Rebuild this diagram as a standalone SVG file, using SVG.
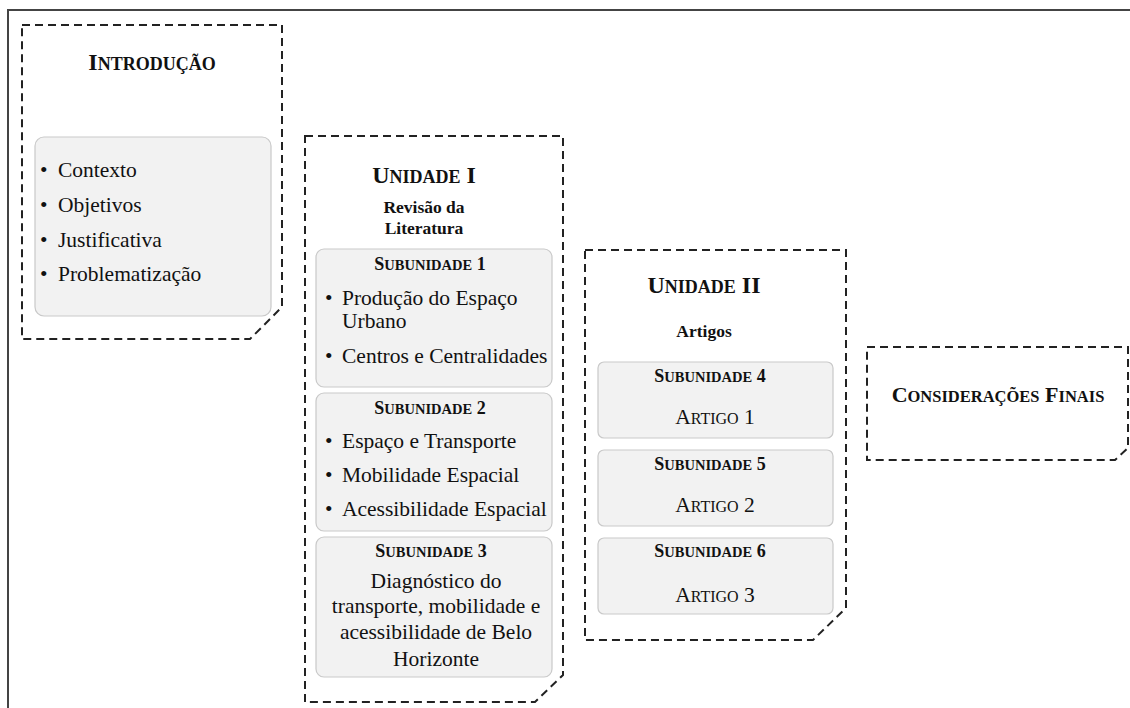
<svg xmlns="http://www.w3.org/2000/svg" width="1130" height="708" viewBox="0 0 1130 708">
<style>
.frame{fill:none;stroke:#444;stroke-width:2}
.dash{fill:none;stroke:#222;stroke-width:2;stroke-dasharray:8 5}
.inner{fill:#f2f2f2;stroke:#c9c9c9;stroke-width:1.2}
text{font-family:"Liberation Serif","Times New Roman",serif;fill:#111}
.h1{font-size:24px;font-weight:bold;text-anchor:middle}
.h1 .s{font-size:18px}
.h2{font-size:17.5px;font-weight:bold;text-anchor:middle}
.h3{font-size:18px;font-weight:bold;text-anchor:middle}
.h3 .s{font-size:14.5px}
.b{font-size:21.5px}
.c{font-size:21.5px;text-anchor:middle}
.art{font-size:21.5px;text-anchor:middle}
.art .s{font-size:16px}
</style>
<rect width="1130" height="708" fill="#fff"/>
<path class="frame" d="M8 708 V10 H1130"/>

<g id="introducao">
<path class="dash" d="M22 25 H282 V307 L250 339 H22 Z"/>
<text class="h1" x="152" y="70">I<tspan class="s">NTRODUÇÃO</tspan></text>
<rect class="inner" x="35" y="137" width="236" height="179" rx="9"/>
<text class="b" x="40" y="177">•<tspan x="58">Contexto</tspan></text>
<text class="b" x="40" y="212">•<tspan x="58">Objetivos</tspan></text>
<text class="b" x="40" y="247">•<tspan x="58">Justificativa</tspan></text>
<text class="b" x="40" y="281">•<tspan x="58">Problematização</tspan></text>
</g>

<g id="unidade1">
<path class="dash" d="M305 136 H563 V675 L535 702 H305 Z"/>
<text class="h1" x="424" y="183">U<tspan class="s">NIDADE</tspan> I</text>
<text class="h2" x="424" y="213">Revisão da</text>
<text class="h2" x="424" y="234">Literatura</text>
</g>

<g id="subunidade1">
<rect class="inner" x="316" y="249" width="236" height="138" rx="8"/>
<text class="h3" x="430" y="270">S<tspan class="s">UBUNIDADE</tspan> 1</text>
<text class="b" x="325" y="305">•<tspan x="342">Produção do Espaço</tspan></text>
<text class="b" x="342" y="328">Urbano</text>
<text class="b" x="325" y="363">•<tspan x="342">Centros e Centralidades</tspan></text>
</g>

<g id="subunidade2">
<rect class="inner" x="316" y="393" width="236" height="138" rx="8"/>
<text class="h3" x="430" y="414">S<tspan class="s">UBUNIDADE</tspan> 2</text>
<text class="b" x="325" y="448">•<tspan x="342">Espaço e Transporte</tspan></text>
<text class="b" x="325" y="482">•<tspan x="342">Mobilidade Espacial</tspan></text>
<text class="b" x="325" y="516">•<tspan x="342">Acessibilidade Espacial</tspan></text>
</g>

<g id="subunidade3">
<rect class="inner" x="316" y="537" width="236" height="140" rx="8"/>
<text class="h3" x="431" y="557">S<tspan class="s">UBUNIDADE</tspan> 3</text>
<text class="c" x="436" y="588">Diagnóstico do</text>
<text class="c" x="436" y="613">transporte, mobilidade e</text>
<text class="c" x="436" y="639">acessibilidade de Belo</text>
<text class="c" x="436" y="666">Horizonte</text>
</g>

<g id="unidade2">
<path class="dash" d="M585 250 H846 V608 L813 640 H585 Z"/>
<text class="h1" x="704" y="293">U<tspan class="s">NIDADE</tspan> II</text>
<text class="h2" x="704" y="337">Artigos</text>
</g>

<g id="subunidade4">
<rect class="inner" x="598" y="362" width="235" height="76" rx="6"/>
<text class="h3" x="710" y="382">S<tspan class="s">UBUNIDADE</tspan> 4</text>
<text class="art" x="715" y="424">A<tspan class="s">RTIGO</tspan> 1</text>
</g>

<g id="subunidade5">
<rect class="inner" x="598" y="450" width="235" height="76" rx="6"/>
<text class="h3" x="710" y="470">S<tspan class="s">UBUNIDADE</tspan> 5</text>
<text class="art" x="715" y="512">A<tspan class="s">RTIGO</tspan> 2</text>
</g>

<g id="subunidade6">
<rect class="inner" x="598" y="538" width="235" height="76" rx="6"/>
<text class="h3" x="710" y="557">S<tspan class="s">UBUNIDADE</tspan> 6</text>
<text class="art" x="715" y="602">A<tspan class="s">RTIGO</tspan> 3</text>
</g>

<g id="consideracoes">
<path class="dash" d="M867 347 H1128 V448 L1115 460 H867 Z"/>
<text class="h1" x="998" y="402" style="font-size:22px">C<tspan style="font-size:16.5px">ONSIDERAÇÕES</tspan> F<tspan style="font-size:16.5px">INAIS</tspan></text>
</g>

<g id="connectors"></g>
</svg>
